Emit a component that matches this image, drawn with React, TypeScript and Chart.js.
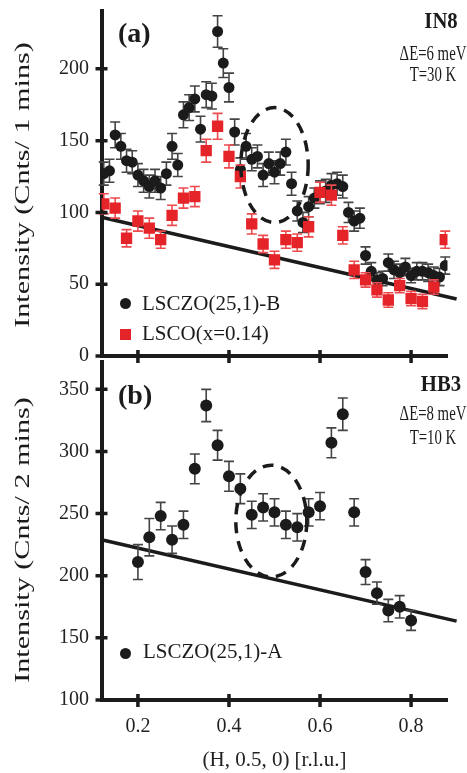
import React, { useEffect, useRef } from "react";
import { Chart, registerables } from "chart.js";

Chart.register(...registerables);

const SERIF = "'Liberation Serif', 'Times New Roman', Times, serif";
const INK = "#1b1b1b";
const RED = "#e5242a";

// ---------- Panel (a): IN8, LSCZO(25,1)-B ----------
const hA_B = [0.125, 0.1375, 0.15, 0.1625, 0.175, 0.1875, 0.2, 0.2125, 0.225, 0.2375, 0.25, 0.2625, 0.275, 0.2875, 0.3, 0.3125, 0.325, 0.3375, 0.35, 0.3625, 0.375, 0.3875, 0.4, 0.4125, 0.425, 0.4375, 0.45, 0.4625, 0.475, 0.4875, 0.5, 0.5125, 0.525, 0.5375, 0.55, 0.5625, 0.575, 0.5875, 0.6, 0.6125, 0.625, 0.6375, 0.65, 0.6625, 0.675, 0.6875, 0.7, 0.7125, 0.725, 0.7375, 0.75, 0.7625, 0.775, 0.7875, 0.8, 0.8125, 0.825, 0.8375, 0.85, 0.8625, 0.875];
const intA_B = [127, 129, 154, 146, 136, 135, 126, 122, 118, 122, 117, 127, 146, 133, 168, 173, 179, 158, 182, 181, 226, 204, 187, 156, 130, 146, 137, 139, 126, 134, 128, 134, 142, 120, 101, 93, 104, 110, 114, 115, 119, 120, 118, 100, 94, 96, 70, 59, 53, 54, 65, 60, 58, 62, 56, 59, 59, 58, 56, 55, 63];
const errA_B = [8, 8, 9, 9, 8, 8, 8, 8, 8, 8, 8, 8, 9, 8, 9, 9, 9, 9, 9, 9, 11, 10, 10, 9, 8, 9, 8, 8, 8, 8, 8, 8, 9, 8, 7, 7, 7, 7, 8, 8, 8, 8, 8, 7, 7, 7, 6, 6, 5, 5, 6, 6, 6, 6, 5, 6, 6, 6, 6, 6, 6];

// ---------- Panel (a): LSCO(x=0.14) ----------
const hA_L = [0.125, 0.15, 0.175, 0.2, 0.225, 0.25, 0.275, 0.3, 0.325, 0.35, 0.375, 0.4, 0.425, 0.45, 0.475, 0.5, 0.525, 0.55, 0.575, 0.6, 0.625, 0.65, 0.675, 0.7, 0.725, 0.75, 0.775, 0.8, 0.825, 0.85, 0.875];
const intA_L = [106, 103, 82, 94, 89, 81, 98, 110, 111, 143, 160, 139, 125, 92, 78, 67, 81, 79, 90, 114, 112, 84, 60, 53, 46, 39, 49, 40, 38, 48, 81];
const errA_L = [7, 7, 6, 7, 7, 6, 7, 7, 7, 8, 9, 8, 8, 7, 6, 6, 6, 6, 7, 7, 7, 6, 6, 5, 5, 5, 5, 5, 5, 5, 6];

const fitA_h = [0.12, 0.9];
const fitA_int = [96.6, 39.7];

// ---------- Panel (b): HB3, LSCZO(25,1)-A ----------
const hB = [0.2, 0.225, 0.25, 0.275, 0.3, 0.325, 0.35, 0.375, 0.4, 0.425, 0.45, 0.475, 0.5, 0.525, 0.55, 0.575, 0.6, 0.625, 0.65, 0.675, 0.7, 0.725, 0.75, 0.775, 0.8];
const intB = [211, 231, 248, 229, 241, 286, 337, 305, 280, 270, 249, 255, 251, 241, 239, 251, 256, 307, 330, 251, 203, 186, 172, 175, 164];
const errB = [14, 15, 11, 11, 11, 12, 13, 12, 12, 12, 11, 11, 11, 11, 11, 11, 11, 12, 13, 11, 10, 9, 9, 9, 8];

const fitB_h = [0.12, 0.9];
const fitB_int = [229, 163.5];

// ---------- axes ----------
const xTicks = [0.2, 0.4, 0.6, 0.8];
const yTicksA = [0, 50, 100, 150, 200];
const yTicksB = [100, 150, 200, 250, 300, 350];

const ellipseA = { cx: 0.5, cy: 133, rx: 0.074, ry: 40 };
const ellipseB = { cx: 0.493, cy: 244, rx: 0.078, ry: 45 };

const pts = (xs: number[], ys: number[]) => xs.map((x, i) => ({ x, y: ys[i] }));

const errorBarPlugin = {
  id: "errorBars",
  beforeDatasetDraw(chart: any, args: any) {
    const ds: any = chart.data.datasets[args.index];
    if (!ds.errors) return;
    const meta = args.meta;
    const ys = chart.scales[meta.yAxisID];
    const ctx = chart.ctx;
    const cap = 5;
    ctx.save();
    ctx.strokeStyle = ds.errorColor;
    ctx.lineWidth = 1.6;
    meta.data.forEach((el: any, i: number) => {
      const p = ds.data[i];
      const x = el.x;
      const t = ys.getPixelForValue(p.y + ds.errors[i]);
      const b = ys.getPixelForValue(p.y - ds.errors[i]);
      ctx.beginPath();
      ctx.moveTo(x, t);
      ctx.lineTo(x, b);
      ctx.moveTo(x - cap, t);
      ctx.lineTo(x + cap, t);
      ctx.moveTo(x - cap, b);
      ctx.lineTo(x + cap, b);
      ctx.stroke();
    });
    ctx.restore();
  },
};

const ellipsePlugin = {
  id: "dashedEllipse",
  afterDatasetsDraw(chart: any, _a: any, opts: any) {
    if (!opts || opts.cx == null) return;
    const xs = chart.scales.x;
    const ys = chart.scales.y;
    const cx = xs.getPixelForValue(opts.cx);
    const cy = ys.getPixelForValue(opts.cy);
    const rx = Math.abs(xs.getPixelForValue(opts.cx + opts.rx) - cx);
    const ry = Math.abs(ys.getPixelForValue(opts.cy + opts.ry) - cy);
    const ctx = chart.ctx;
    ctx.save();
    ctx.setLineDash([11, 8]);
    ctx.lineWidth = 3.5;
    ctx.strokeStyle = INK;
    ctx.beginPath();
    ctx.ellipse(cx, cy, rx, ry, 0, 0, Math.PI * 2);
    ctx.stroke();
    ctx.restore();
  },
};

const crossTicksPlugin = {
  id: "crossTicks",
  afterDraw(chart: any) {
    const { ctx, chartArea } = chart;
    const xs = chart.scales.x;
    const ys = chart.scales.y;
    ctx.save();
    ctx.strokeStyle = INK;
    ctx.lineWidth = 3.5;
    ctx.beginPath();
    xs.ticks.forEach((t: any) => {
      const px = xs.getPixelForValue(t.value);
      ctx.moveTo(px, chartArea.bottom - 6);
      ctx.lineTo(px, chartArea.bottom + 7);
    });
    ys.ticks.forEach((t: any) => {
      const py = ys.getPixelForValue(t.value);
      ctx.moveTo(chartArea.left - 6, py);
      ctx.lineTo(chartArea.left + 6, py);
    });
    ctx.stroke();
    ctx.restore();
  },
};

function makeConfig(opts: {
  datasets: any[];
  yMin: number;
  yMax: number;
  yTicks: number[];
  padTop: number;
  xHeight: number;
  showXLabels: boolean;
  ellipse: any;
}): any {
  return {
    type: "scatter",
    data: { datasets: opts.datasets },
    options: {
      animation: false,
      responsive: false,
      maintainAspectRatio: false,
      events: [],
      layout: { padding: { top: opts.padTop, right: 19.5, bottom: 0, left: 0 } },
      plugins: {
        legend: { display: false },
        tooltip: { enabled: false },
        dashedEllipse: opts.ellipse,
      },
      scales: {
        x: {
          type: "linear",
          min: 0.12,
          max: 0.88,
          afterBuildTicks: (s: any) => {
            s.ticks = xTicks.map((v) => ({ value: v }));
          },
          afterFit: (s: any) => {
            s.height = opts.xHeight;
            s.paddingLeft = 0;
            s.paddingRight = 0;
          },
          ticks: {
            display: opts.showXLabels,
            padding: 14.5,
            color: "#222",
            font: { family: SERIF, size: 20 },
            callback: (v: any) => Number(v).toFixed(1),
          },
          grid: { drawOnChartArea: false, drawTicks: false },
          border: { color: INK, width: 4 },
          title: {
            display: opts.showXLabels,
            text: "(H, 0.5, 0) [r.l.u.]",
            color: "#222",
            font: { family: SERIF, size: 21 },
            padding: { top: 0, bottom: 0 },
          },
        },
        y: {
          type: "linear",
          min: opts.yMin,
          max: opts.yMax,
          afterBuildTicks: (s: any) => {
            s.ticks = opts.yTicks.map((v) => ({ value: v }));
          },
          afterFit: (s: any) => {
            s.width = 101.5;
            s.paddingTop = 0;
            s.paddingBottom = 0;
          },
          ticks: {
            padding: 12.5,
            color: "#222",
            font: { family: SERIF, size: 20 },
            callback: (v: any) => String(v),
          },
          grid: { drawOnChartArea: false, drawTicks: false },
          border: { color: INK, width: 4 },
        },
      },
    },
    plugins: [errorBarPlugin, ellipsePlugin, crossTicksPlugin],
  };
}

function Txt(props: {
  x: number;
  base: number;
  size: number;
  bold?: boolean;
  sx?: number;
  center?: boolean;
  children: React.ReactNode;
}) {
  const { x, base, size, bold, sx = 1, center, children } = props;
  return (
    <div
      style={{
        position: "absolute",
        left: x,
        top: base - 0.8375 * size,
        fontSize: size,
        lineHeight: `${size}px`,
        fontWeight: bold ? 700 : 400,
        whiteSpace: "nowrap",
        transform: center ? `translateX(-50%) scaleX(${sx})` : `scaleX(${sx})`,
        transformOrigin: center ? "center" : "left",
      }}
    >
      {children}
    </div>
  );
}

function YTitle(props: { cx: number; cy: number; text: string }) {
  return (
    <div
      style={{
        position: "absolute",
        left: props.cx,
        top: props.cy,
        fontSize: 22,
        lineHeight: "22px",
        whiteSpace: "nowrap",
        transform: "translate(-50%, -50%) rotate(-90deg) scaleX(1.37)",
      }}
    >
      {props.text}
    </div>
  );
}

export default function App() {
  const refA = useRef<HTMLCanvasElement>(null);
  const refB = useRef<HTMLCanvasElement>(null);

  useEffect(() => {
    const cfgA = makeConfig({
      datasets: [
        {
          label: "LSCO(x=0.14)",
          data: pts(hA_L, intA_L),
          errors: errA_L,
          errorColor: "#ee4a4e",
          pointStyle: "rect",
          pointRadius: 8,
          backgroundColor: RED,
          borderColor: RED,
          borderWidth: 0,
          order: 1,
        },
        {
          label: "LSCZO(25,1)-B",
          data: pts(hA_B, intA_B),
          errors: errA_B,
          errorColor: "#444",
          pointStyle: "circle",
          pointRadius: 5.5,
          backgroundColor: INK,
          borderColor: INK,
          borderWidth: 0,
          order: 2,
        },
        {
          label: "fit",
          data: pts(fitA_h, fitA_int),
          showLine: true,
          borderColor: INK,
          borderWidth: 3.5,
          pointRadius: 0,
          clip: false,
          order: 3,
        },
      ],
      yMin: 0,
      yMax: 240,
      yTicks: yTicksA,
      padTop: 11.4,
      xHeight: 14,
      showXLabels: false,
      ellipse: ellipseA,
    });
    const cfgB = makeConfig({
      datasets: [
        {
          label: "LSCZO(25,1)-A",
          data: pts(hB, intB),
          errors: errB,
          errorColor: "#444",
          pointStyle: "circle",
          pointRadius: 6,
          backgroundColor: INK,
          borderColor: INK,
          borderWidth: 0,
          order: 1,
        },
        {
          label: "fit",
          data: pts(fitB_h, fitB_int),
          showLine: true,
          borderColor: INK,
          borderWidth: 3.5,
          pointRadius: 0,
          clip: false,
          order: 2,
        },
      ],
      yMin: 100,
      yMax: 372,
      yTicks: yTicksB,
      padTop: 3.3,
      xHeight: 73,
      showXLabels: true,
      ellipse: ellipseB,
    });
    const a = new Chart(refA.current as HTMLCanvasElement, cfgA);
    const b = new Chart(refB.current as HTMLCanvasElement, cfgB);
    return () => {
      a.destroy();
      b.destroy();
    };
  }, []);

  return (
    <div
      style={{
        position: "absolute",
        left: 0,
        top: 0,
        width: 467,
        height: 773,
        fontFamily: SERIF,
        color: "#1b1b1b",
        background: "#fff",
        overflow: "hidden",
      }}
    >
      <canvas ref={refA} width={467} height={370} style={{ position: "absolute", left: 0, top: 0 }} />
      <canvas ref={refB} width={467} height={417} style={{ position: "absolute", left: 0, top: 356 }} />

      <YTitle cx={22} cy={185} text="Intensity (Cnts/ 1 mins)" />
      <YTitle cx={22} cy={540} text="Intensity (Cnts/ 2 mins)" />

      <Txt x={118} base={42.5} size={28} bold>(a)</Txt>
      <Txt x={441} base={28} size={23} bold sx={0.9} center>IN8</Txt>
      <Txt x={433} base={60} size={20} sx={0.74} center>ΔE=6 meV</Txt>
      <Txt x={433} base={81} size={20} sx={0.74} center>T=30 K</Txt>

      <div style={{ position: "absolute", left: 119.5, top: 298, width: 11, height: 11, borderRadius: "50%", background: INK }} />
      <Txt x={142} base={311} size={21}>LSCZO(25,1)-B</Txt>
      <div style={{ position: "absolute", left: 119.5, top: 328.5, width: 11, height: 11, background: RED }} />
      <Txt x={142} base={341} size={21}>LSCO(x=0.14)</Txt>

      <Txt x={118} base={404} size={28} bold>(b)</Txt>
      <Txt x={441} base={391} size={23} bold sx={0.9} center>HB3</Txt>
      <Txt x={433} base={420} size={20} sx={0.74} center>ΔE=8 meV</Txt>
      <Txt x={433} base={444} size={20} sx={0.74} center>T=10 K</Txt>

      <div style={{ position: "absolute", left: 119.5, top: 647.5, width: 11, height: 11, borderRadius: "50%", background: INK }} />
      <Txt x={143} base={659} size={21}>LSCZO(25,1)-A</Txt>
    </div>
  );
}
